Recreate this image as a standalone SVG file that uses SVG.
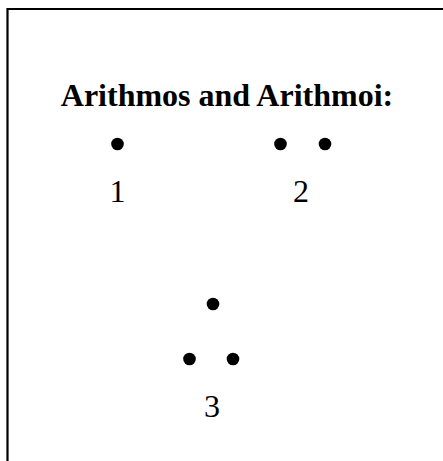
<svg xmlns="http://www.w3.org/2000/svg" width="443" height="461" viewBox="0 0 443 461">
<style>
.t{font-family:"Liberation Serif","Times New Roman",serif;fill:#000;text-anchor:middle}
.title{font-size:32px;font-weight:bold}
.lbl{font-size:32px}
.dot{fill:#000}
.frame{stroke:#000;stroke-width:2.2;fill:none}
</style>
<rect x="0" y="0" width="443" height="461" fill="#fff"/>
<path class="frame" d="M7.5 461 V9 H443"/>
<text class="t title" x="227" y="106">Arithmos and Arithmoi:</text>
<g id="n1">
<circle class="dot" cx="117.5" cy="144" r="6.3"/>
<text class="t lbl" x="117.5" y="201.5">1</text>
</g>
<g id="n2">
<circle class="dot" cx="280.5" cy="144" r="6.3"/>
<circle class="dot" cx="325" cy="144" r="6.3"/>
<text class="t lbl" x="301" y="201.5">2</text>
</g>
<g id="n3">
<circle class="dot" cx="213" cy="304" r="6.3"/>
<circle class="dot" cx="189.5" cy="359" r="6.3"/>
<circle class="dot" cx="233" cy="359" r="6.3"/>
<text class="t lbl" x="212" y="417">3</text>
</g>
<g id="connectors"></g>
</svg>
